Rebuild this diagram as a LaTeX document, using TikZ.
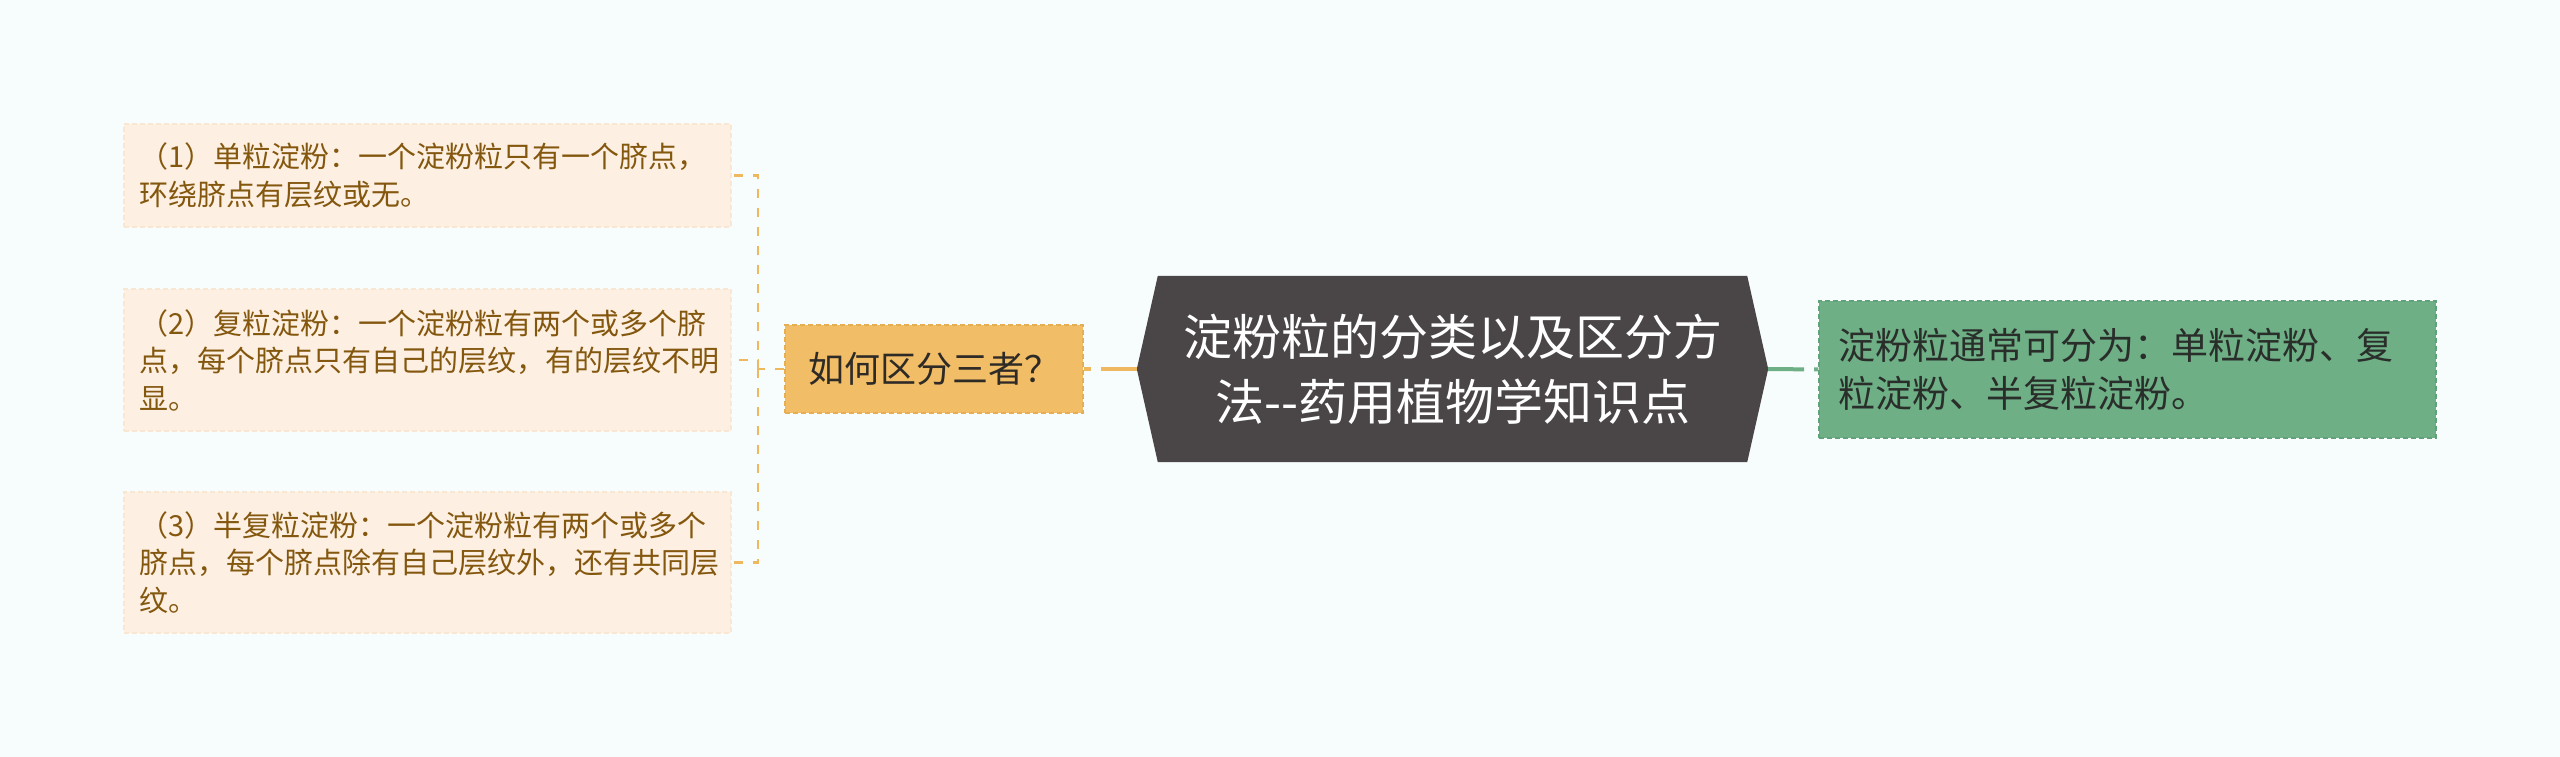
\documentclass[tikz,border=0pt]{standalone}
\usepackage{fontspec}
\setmainfont{Noto Sans CJK SC}
\definecolor{bgc}{HTML}{F7FDFC}
\definecolor{lfill}{HTML}{FDF0E2}
\definecolor{lborder}{HTML}{F9E7D4}
\definecolor{ltext}{HTML}{84570F}
\definecolor{ofill}{HTML}{F1BD66}
\definecolor{oborder}{HTML}{E6AE52}
\definecolor{oline}{HTML}{EFB75E}
\definecolor{cdark}{HTML}{4A4546}
\definecolor{gfill}{HTML}{6EAF86}
\definecolor{gborder}{HTML}{62A27A}
\definecolor{gtext}{HTML}{2A2E2B}
\definecolor{otext}{HTML}{2E2A26}
\pgfdeclarelayer{bg}
\pgfsetlayers{bg,main}
\tikzset{
  leftbox/.style={draw=lborder, fill=lfill, line width=1.5pt, dash pattern=on 5pt off 3pt,
    text=ltext, text width=577pt, inner xsep=15pt, inner ysep=0pt, align=left,
    minimum width=607pt, font=\fontsize{29pt}{37.5pt}\selectfont, anchor=center},
  qbox/.style={draw=oborder, fill=ofill, line width=1.5pt, dash pattern=on 5pt off 3pt,
    text=otext, minimum width=298pt, minimum height=88pt, inner xsep=20pt, align=left,
    font=\fontsize{36pt}{44pt}\selectfont},
  hexnode/.style={text=white, minimum width=631pt, minimum height=186pt, align=center,
    font=\fontsize{49pt}{65pt}\selectfont},
  gbox/.style={draw=gborder, fill=gfill, line width=1.5pt, dash pattern=on 5pt off 3pt,
    text=gtext, text width=579pt, inner xsep=19pt, align=left, minimum width=617pt,
    minimum height=137pt, font=\fontsize{37pt}{48pt}\selectfont},
  lconn/.style={draw=oline, line width=2.5pt, dash pattern=on 9pt off 10pt},
  mainconn/.style={line width=4pt, dash pattern=on 36pt off 10pt}
}
\begin{document}
\begin{tikzpicture}[x=1pt,y=-1pt]
\begin{pgfonlayer}{bg}
\fill[bgc] (0,0) rectangle (2560,757);
\end{pgfonlayer}
\useasboundingbox (0,0) rectangle (2560,757);

\node[leftbox, minimum height=103pt] (b1) at (427.5,175.5)
  {（1）单粒淀粉：一个淀粉粒只有一个脐点，\\环绕脐点有层纹或无。};
\node[leftbox, minimum height=142pt] (b2) at (427.5,360)
  {（2）复粒淀粉：一个淀粉粒有两个或多个脐\\点，每个脐点只有自己的层纹，有的层纹不明\\显。};
\node[leftbox, minimum height=141pt] (b3) at (427.5,562.5)
  {（3）半复粒淀粉：一个淀粉粒有两个或多个\\脐点，每个脐点除有自己层纹外，还有共同层\\纹。};

\node[qbox] (q) at (934,369) {如何区分三者？};

\node[hexnode] (c) at (1452.5,369) {淀粉粒的分类以及区分方\\法-{}-药用植物学知识点};
\begin{pgfonlayer}{bg}
\fill[cdark] ([xshift=21pt]c.north west) -- ([xshift=-21pt]c.north east) -- (c.east)
  -- ([xshift=-21pt]c.south east) -- ([xshift=21pt]c.south west) -- (c.west) -- cycle;
\end{pgfonlayer}

\node[gbox] (g) at (2127.5,369.5) {淀粉粒通常可分为：单粒淀粉、复\\粒淀粉、半复粒淀粉。};

\coordinate (j) at (758,369);
\draw[lconn] (q.west) -- (j);
\draw[lconn] (j) |- (b1.east);
\draw[lconn] (j) |- (b3.east);
\draw[lconn] (j) |- (b2.east);

\draw[mainconn, oline] (c.west) -- (q.east);
\draw[mainconn, gfill] (c.east) -- (g.west);
\end{tikzpicture}
\end{document}
